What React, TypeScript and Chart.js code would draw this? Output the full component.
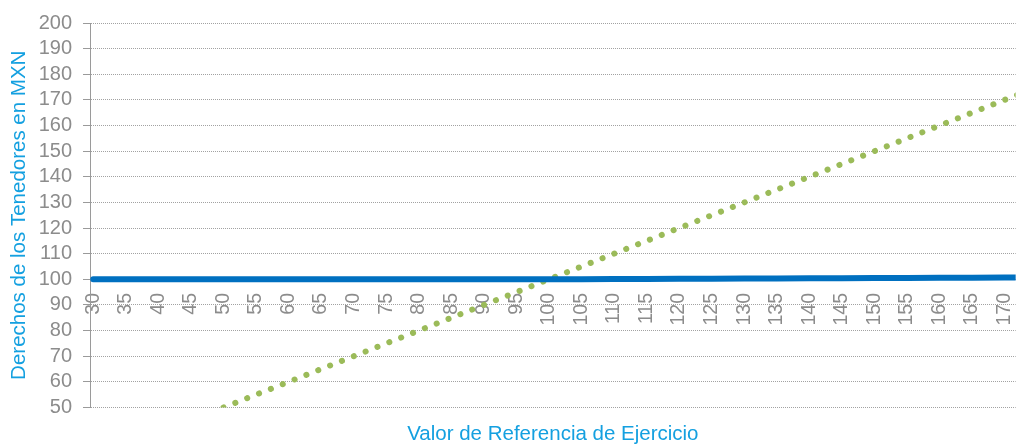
import React, { useEffect, useRef } from "react";
import { Chart, registerables } from "chart.js";

Chart.register(...registerables);

// Valor de referencia (eje X)
const xValues = [30, 35, 40, 45, 50, 55, 60, 65, 70, 75, 80, 85, 90, 95, 100, 105, 110, 115, 120, 125, 130, 135, 140, 145, 150, 155, 160, 165, 170, 175];
// Derechos de los Tenedores (línea azul)
const holderRights = [100, 100, 100, 100, 100, 100, 100, 100, 100, 100, 100, 100, 100, 100, 100, 100.05, 100.1, 100.15, 100.2, 100.25, 100.3, 100.35, 100.4, 100.45, 100.5, 100.55, 100.6, 100.65, 100.7, 100.75];
// Subyacente (línea verde punteada)
const underlying = [null, null, null, null, 50, 55, 60, 65, 70, 75, 80, 85, 90, 95, 100, 105, 110, 115, 120, 125, 130, 135, 140, 145, 150, 155, 160, 165, 170, 175];
// Etiquetas del eje X
const xTickLabels = [30, 35, 40, 45, 50, 55, 60, 65, 70, 75, 80, 85, 90, 95, 100, 105, 110, 115, 120, 125, 130, 135, 140, 145, 150, 155, 160, 165, 170];
// Eje Y
const yMin = 50;
const yMax = 200;
const yStep = 10;

const xTitle = "Valor de Referencia de Ejercicio";
const yTitle = "Derechos de los Tenedores en MXN";

const FONT = "'Liberation Sans', Arial, sans-serif";
const TITLE_BLUE = "#14A0E0";
const TICK_GREY = "#8c8c8c";

export default function App() {
  const ref = useRef<HTMLCanvasElement | null>(null);

  useEffect(() => {
    document.body.style.margin = "0";
    document.body.style.overflow = "hidden";
    const canvas = ref.current;
    if (!canvas) return;
    const chart = new Chart(canvas, {
      type: "line",
      data: {
        datasets: [
          {
            label: "Subyacente",
            data: xValues.map((x, i) => ({ x, y: underlying[i] })),
            borderColor: "#9BBB59",
            borderWidth: 6,
            borderDash: [0.1, 12.63],
            borderCapStyle: "round",
            pointRadius: 0,
            tension: 0,
            order: 2,
          },
          {
            label: "Derechos",
            data: xValues.map((x, i) => ({ x, y: holderRights[i] })),
            borderColor: "#0070C0",
            borderWidth: 6,
            borderCapStyle: "round",
            pointRadius: 0,
            tension: 0,
            order: 1,
          },
        ],
      },
      options: {
        responsive: false,
        animation: false,
        layout: { padding: { top: 20, right: 0, bottom: 0, left: 0 } },
        plugins: {
          legend: { display: false },
          tooltip: { enabled: false },
          title: {
            display: true,
            position: "bottom",
            fullSize: false,
            text: xTitle,
            color: TITLE_BLUE,
            font: { family: FONT, size: 20.5, weight: "normal", lineHeight: 1 },
            padding: { top: 17, bottom: 0 },
          },
        },
        scales: {
          x: {
            type: "linear",
            min: 29.5,
            max: 171.7,
            position: { y: 90 },
            afterBuildTicks: (s: any) => {
              s.ticks = xTickLabels.map((v) => ({ value: v }));
            },
            grid: { display: false, drawTicks: false },
            border: { display: false },
            ticks: {
              autoSkip: false,
              minRotation: 90,
              maxRotation: 90,
              padding: -12,
              color: TICK_GREY,
              font: { family: FONT, size: 19.5 },
              callback: (v: any) => String(v),
            },
          },
          y: {
            type: "linear",
            min: yMin,
            max: yMax,
            afterFit: (s: any) => {
              s.width = 90;
            },
            ticks: {
              stepSize: yStep,
              autoSkip: false,
              padding: 11,
              color: TICK_GREY,
              font: { family: FONT, size: 20 },
            },
            grid: {
              color: "#a2a2a2",
              lineWidth: 1,
              drawTicks: true,
              tickLength: 7,
              tickColor: "#9a9a9a",
              tickBorderDash: [],
            },
            border: { display: true, color: "#9a9a9a", width: 1, dash: [1, 1] },
            title: {
              display: true,
              text: yTitle,
              color: TITLE_BLUE,
              font: { family: FONT, size: 20.5 },
              padding: { top: 7, bottom: 0 },
            },
          },
        },
      },
    });
    return () => chart.destroy();
  }, []);

  return <canvas ref={ref} width={1016} height={445} style={{ display: "block" }} />;
}
